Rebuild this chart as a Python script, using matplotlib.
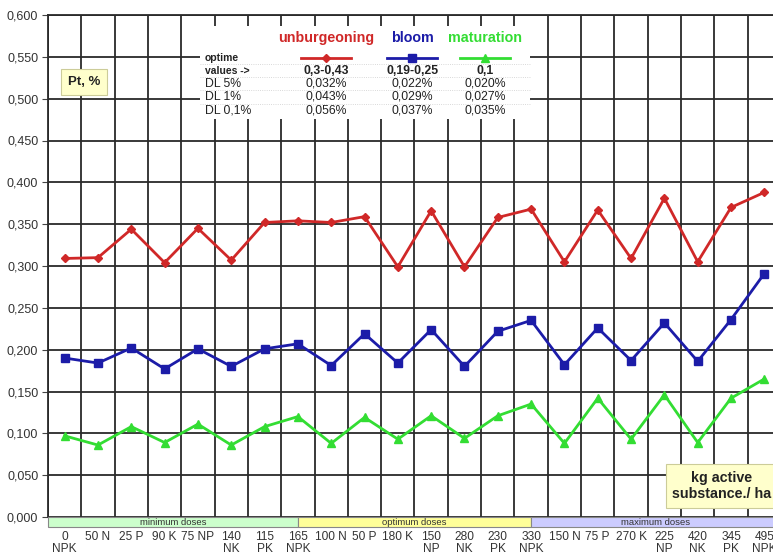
import numpy as np
import matplotlib
matplotlib.use('Agg')
import matplotlib.pyplot as plt
from matplotlib.patches import Rectangle
from matplotlib.lines import Line2D

plt.rcParams['font.family'] = ['Liberation Sans', 'DejaVu Sans']

# doses, kg active substance / ha
doses = ['0\nNPK', '50 N', '25 P', '90 K', '75 NP', '140\nNK', '115\nPK', '165\nNPK',
         '100 N', '50 P', '180 K', '150\nNP', '280\nNK', '230\nPK', '330\nNPK',
         '150 N', '75 P', '270 K', '225\nNP', '420\nNK', '345\nPK', '495\nNPK']

unburgeoning = [0.309, 0.310, 0.344, 0.304, 0.345, 0.307, 0.352, 0.354,
                0.352, 0.359, 0.299, 0.366, 0.299, 0.358, 0.368,
                0.305, 0.367, 0.309, 0.381, 0.305, 0.370, 0.388]
bloom = [0.190, 0.184, 0.202, 0.177, 0.201, 0.180, 0.201, 0.207,
         0.181, 0.219, 0.184, 0.224, 0.180, 0.222, 0.235,
         0.182, 0.226, 0.187, 0.232, 0.186, 0.236, 0.291]
maturation = [0.097, 0.086, 0.108, 0.089, 0.111, 0.086, 0.108, 0.120,
              0.088, 0.119, 0.093, 0.121, 0.094, 0.121, 0.135,
              0.088, 0.142, 0.093, 0.146, 0.089, 0.142, 0.165]

# dose groups: (label, start, end, colour)
groups = [('minimum doses', -0.5, 7, '#ccffcc'),
          ('optimum doses', 7, 14, '#ffff99'),
          ('maximum doses', 14, 21.5, '#ccccff')]

# legend table
series_names = ['unburgeoning', 'bloom', 'maturation']
optime_values = ['0,3-0,43', '0,19-0,25', '0,1']
dl_rows = [('DL 5%', ['0,032%', '0,022%', '0,020%']),
           ('DL 1%', ['0,043%', '0,029%', '0,027%']),
           ('DL 0,1%', ['0,056%', '0,037%', '0,035%'])]

red = '#d02828'
blue = '#1c1ca8'
green = '#33dd33'
colors = [red, blue, green]
markers = ['D', 's', '^']
msizes = [4, 6, 6]

fig = plt.figure(figsize=(7.73, 5.57), dpi=100)
ax = fig.add_axes([48/773, 40/557, 733/773, 502/557])

x = np.arange(len(doses))
for vals, c, m, ms in zip([unburgeoning, bloom, maturation], colors, markers, msizes):
    ax.plot(x, vals, color=c, lw=2, marker=m, ms=ms, zorder=5)

ax.set_xlim(-0.5, len(doses) - 0.5)
ax.set_ylim(0, 0.6)
ax.set_yticks(np.arange(0, 0.601, 0.05))
ax.set_yticklabels([('%.3f' % v).replace('.', ',') for v in np.arange(0, 0.601, 0.05)],
                   fontsize=9, color='#333333')
ax.set_xticks(x)
ax.set_xticklabels(doses, fontsize=8.6, color='#333333', linespacing=1.05, va='top')
ax.set_xticks(np.arange(-0.5, len(doses), 1), minor=True)
ax.tick_params(axis='x', which='both', length=0, pad=10)
ax.tick_params(axis='y', length=4, color='#444444', pad=3)
ax.grid(True, which='minor', axis='x', color='#2a2a2a', lw=1.3)
ax.grid(True, which='major', axis='y', color='#2a2a2a', lw=1.3)
for s in ax.spines.values():
    s.set_color('#2a2a2a')
    s.set_linewidth(1.3)
ax.spines['bottom'].set_visible(False)
ax.set_axisbelow(True)

# dose group bars under the axis
for lab, x0, x1, c in groups:
    ax.add_patch(Rectangle((x0, -0.0125), x1 - x0, 0.0125, facecolor=c,
                           edgecolor='#888888', lw=0.8, clip_on=False, zorder=4))
    ax.text((x0 + x1) / 2, -0.0062, lab, ha='center', va='center', fontsize=6.8,
            color='#333333', clip_on=False, zorder=5)

# legend table
tl, tr, tb, tt = 4.06, 13.97, 0.476, 0.587
ax.add_patch(Rectangle((tl, tb), tr - tl, tt - tb, facecolor='white', edgecolor='none', zorder=3))
col_x = [7.85, 10.43, 12.62]
row_y = [0.572, 0.549, 0.533, 0.518, 0.502, 0.486]
for cx, name, c in zip(col_x, series_names, colors):
    ax.text(cx, row_y[0], name, ha='center', va='center', fontsize=10.3, fontweight='bold',
            color=c, zorder=6)
for cx, c, m, ms in zip(col_x, colors, markers, msizes):
    ax.add_line(Line2D([cx - 0.75, cx, cx + 0.75], [row_y[1]] * 3, color=c, lw=2,
                       marker=m, ms=ms, markevery=[1], zorder=6))
ax.text(tl + 0.15, row_y[1], 'optime', ha='left', va='center', fontsize=7.5,
        fontweight='bold', color='#222222', zorder=6)
ax.text(tl + 0.15, row_y[2], 'values ->', ha='left', va='center', fontsize=7.5,
        fontweight='bold', color='#222222', zorder=6)
for cx, v in zip(col_x, optime_values):
    ax.text(cx, row_y[2], v, ha='center', va='center', fontsize=8.8, fontweight='bold',
            color='#222222', zorder=6)
for (lab, vals), ry in zip(dl_rows, row_y[3:]):
    ax.text(tl + 0.15, ry, lab, ha='left', va='center', fontsize=8.8, color='#222222', zorder=6)
    for cx, v in zip(col_x, vals):
        ax.text(cx, ry, v, ha='center', va='center', fontsize=8.8, color='#222222', zorder=6)
for yy in [(row_y[i] + row_y[i + 1]) / 2 for i in range(1, 5)]:
    ax.plot([tl, tr], [yy, yy], color='#cccccc', lw=0.6, ls=':', zorder=4)

# axis captions
fig.text(84/773, 1 - 82/557, 'Pt, %', ha='center', va='center', fontsize=9.5,
         fontweight='bold', color='#222222',
         bbox=dict(boxstyle='square,pad=0.5', facecolor='#ffffcc', edgecolor='#cccc99', lw=0.8))
fig.text(722/773, 1 - 486/557, 'kg active\nsubstance./ ha', ha='center', va='center',
         fontsize=10.3, fontweight='bold', color='#222222', linespacing=1.25,
         bbox=dict(boxstyle='square,pad=0.45', facecolor='#ffffcc', edgecolor='#cccc99', lw=0.8))

fig.savefig('out.png', dpi=100)
